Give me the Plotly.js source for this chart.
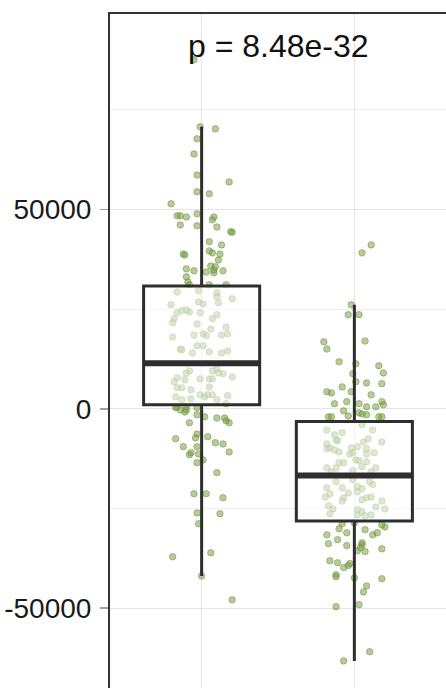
<!DOCTYPE html>
<html>
<head>
<meta charset="utf-8">
<script src="https://cdn.plot.ly/plotly-3.0.1.min.js"></script>
<style>
  html, body { margin: 0; padding: 0; background: #ffffff; }
  #chart { width: 446px; height: 688px; }
</style>
</head>
<body>
<div id="chart"></div>
<script>
// ---------- data ----------
const categories = ["Group 1", "Group 2"];
const pLabel = "p = 8.48e-32";
const yTickVals = [-50000, 0, 50000];
const yTickText = ["-50000", "0", "50000"];

// box statistics per category
const q1Values = [1000, -28100];
const medianValues = [11450, -16700];
const q3Values = [30800, -3150];
const lowerFences = [-41900, -63200];
const upperFences = [70700, 26100];

// jittered points, group 1 (horizontal jitter offset, value)
const jitterGroup1 = [
  -0.05, -0.01, 0.09, -0.03, -0.05, -0.03, 0.18, -0.03, 0.05, -0.20,
  -0.16, -0.14, -0.10, -0.03, 0.08, 0.07, -0.14, -0.03, 0.10, 0.19,
  0.20, 0.05, 0.13, -0.12, -0.11, 0.05, 0.07, 0.12, 0.11, -0.10,
  -0.05, 0.06, 0.09, 0.08, 0.03, 0.08, 0.14, -0.10, -0.09, 0.05,
  0.16, -0.08,
  -0.16, -0.02, 0.10, 0.10, -0.20, -0.02, 0.01, 0.11,
  0.20, -0.16, -0.13, -0.10, -0.08, -0.01, 0.10, -0.18, -0.19, 0.07,
  -0.03, 0.06, 0.16, -0.19, -0.05, 0.01, 0.03, 0.13, 0.17, -0.14,
  -0.13, -0.03, 0.01, -0.06, 0.05, 0.13, 0.17,
  -0.08, -0.10, -0.16, -0.11, -0.01, 0.05, 0.07, 0.07, 0.10, 0.11, 0.14, 0.20, -0.18,
  -0.16, -0.13, -0.07, 0.05, -0.01, 0.02, 0.04, 0.07, -0.17, -0.13,
  -0.07, 0.17, 0.10, 0.16, -0.16, -0.10,
  -0.17, -0.14, -0.10, -0.03, -0.11, -0.03, 0.02, 0.10, 0.15, 0.16, 0.18, -0.08, -0.17, -0.03,
  -0.04, 0.04, 0.09, 0.14, -0.12, -0.03, -0.07, -0.08, -0.02, 0.18,
  0.01, -0.03, 0.10, -0.05, 0.03, 0.14, -0.03, 0.12, -0.02, -0.19,
  0.06, 0.00, 0.20
];
const valuesGroup1 = [
  87500, 70700, 70200, 67700, 63900, 58600, 56900, 54400, 53900, 51400,
  48400, 48400, 48100, 48900, 48100, 47400, 46100, 45900, 45600, 44400,
  44300, 41900, 41100, 38800, 38600, 39600, 39100, 38800, 37300, 35100,
  34600, 35800, 35600, 34800, 34300, 34100, 34600, 33100, 31800, 31100,
  31100, 31100,
  29300, 29600, 29100, 28100, 26100, 26800, 26300, 26600,
  27600, 24100, 24600, 24800, 24300, 24100, 23600, 22600, 21600, 22600,
  21300, 20000, 20500, 18000, 18500, 18800, 18300, 18500, 18800, 15000,
  14800, 15800, 15800, 14000, 14300, 14000, 14500,
  9500, 9000, 7800, 7300, 7500, 7500, 7500, 9500, 10000, 9000, 8800, 8000, 6800,
  5300, 5300, 4800, 5500, 3500, 3000, 3500, 3500, 3000, 2300,
  2500, 3300, 2300, 1300, 500, 500,
  300, -300, -300, 300, -800, -1500, -2000, -2300, -2300, -3000, -3500, -3500, -7500, -6300,
  -7300, -7000, -8500, -8800, -9500, -9500, -11000, -11500, -11300, -10800,
  -12800, -13500, -16000, -21300, -21300, -22300, -26100, -26300, -28800, -37100,
  -36100, -41900, -47900
];

// jittered points, group 2
const jitterGroup2 = [
  0.11, 0.05, -0.02, -0.04, 0.03, -0.20, -0.18, 0.07, -0.10, 0.01,
  0.16, 0.19, -0.01, 0.01, 0.08, 0.18, -0.08, -0.18, -0.15, -0.02,
  0.11, -0.13, -0.05, 0.03, 0.08, 0.18, 0.19, -0.07, -0.04, 0.03,
  0.08, 0.14, -0.17, -0.15, 0.16, 0.18, 0.05,
  -0.18, -0.13, -0.08, 0.05, 0.12, -0.12, -0.11, -0.18, 0.06, 0.09,
  0.18, -0.18, -0.16, -0.13, -0.02, 0.02, 0.08, -0.10, -0.01, -0.03,
  0.13, 0.08, 0.01, 0.03, 0.08, -0.10, -0.07, -0.18, -0.12, 0.05,
  0.14, 0.11, -0.15, -0.01, -0.12, -0.01, 0.10, -0.18, -0.08, 0.02,
  0.05, 0.12, -0.16, -0.19, -0.04, -0.07, -0.08, 0.08, 0.05, 0.02,
  0.11, 0.18, -0.17, -0.14, 0.02, 0.05, 0.14, 0.20, -0.16, 0.02, 0.11, 0.07,
  -0.08, 0.00, 0.18, 0.20, -0.18, -0.10, -0.05, 0.07, 0.12, 0.15,
  -0.17, -0.11, -0.05, 0.05, 0.05, 0.04, 0.02, 0.07, 0.18, -0.16,
  -0.11, -0.07, -0.04, -0.03, -0.12, -0.12, 0.00, 0.18, 0.08, 0.06,
  -0.12, 0.03, 0.10, -0.07
];
const valuesGroup2 = [
  41100, 39100, 26100, 23600, 23600, 16800, 15000, 17000, 11800, 11300,
  10800, 9000, 8800, 6800, 6500, 6300, 5500, 4300, 4000, 4300,
  3500, 1300, 1800, 1300, 500, 1800, 1000, -500, -1800, -1000,
  -1500, 500, -2000, -2000, -2000, -2000, -1300,
  -5300, -6500, -6000, -4000, -5300, -7800, -8000, -8800, -8300, -7500,
  -8300, -10000, -9800, -10300, -9800, -9500, -10000, -10800, -11000, -11300,
  -11000, -11300, -12800, -13000, -13300, -13500, -13500, -14800, -14800, -14500,
  -14800, -15800, -15800, -15500, -18300, -17800, -18300, -19800, -19800, -19500,
  -20000, -19000, -21300, -22100, -21100, -22300, -23100, -22300, -22800, -20800,
  -22100, -23100, -24300, -25100, -25300, -25800, -24600, -25100, -26300, -26600, -26600, -26800,
  -28800, -28600, -29100, -29600, -31600, -30100, -31100, -30300, -31600, -31100,
  -33800, -32800, -34300, -33600, -34100, -34800, -35600, -35800, -35100, -38100,
  -38600, -39800, -39300, -38800, -41600, -42100, -42400, -42600, -44400, -45900,
  -49600, -49100, -60900, -63200
];

// ---------- build traces ----------
const positions = categories.map((c, i) => i + 1);
const boxWidth = 0.76;
const yRange = [-70000, 99000];
const xRange = [0.4, 2.6];

const ptX = [];
const ptY = [];
[[jitterGroup1, valuesGroup1], [jitterGroup2, valuesGroup2]].forEach((g, i) => {
  g[0].forEach((j, k) => { ptX.push(positions[i] + j); ptY.push(g[1][k]); });
});

const points = {
  type: 'scatter', mode: 'markers', x: ptX, y: ptY,
  marker: { size: 6.5, color: 'rgba(112,152,60,0.5)', line: { color: 'rgba(112,152,60,0.55)', width: 1 } },
  hoverinfo: 'skip', xaxis: 'x', yaxis: 'y'
};

const boxes = {
  type: 'box', x: positions,
  q1: q1Values, median: medianValues, q3: q3Values,
  lowerfence: lowerFences, upperfence: upperFences,
  width: boxWidth, whiskerwidth: 0, boxpoints: false,
  line: { color: '#2e2e2e', width: 3 },
  fillcolor: 'rgba(255,255,255,0.55)',
  hoverinfo: 'skip', xaxis: 'x2', yaxis: 'y2'
};

const medX = [], medY = [];
positions.forEach((p, i) => {
  medX.push(p - boxWidth / 2, p + boxWidth / 2, null);
  medY.push(medianValues[i], medianValues[i], null);
});
const medians = {
  type: 'scatter', mode: 'lines', x: medX, y: medY,
  line: { color: '#2e2e2e', width: 6 },
  hoverinfo: 'skip', xaxis: 'x2', yaxis: 'y2'
};

const font = 'Liberation Sans, Arial, Helvetica, sans-serif';

const layout = {
  width: 446, height: 688,
  margin: { l: 110, r: 0, t: 14, b: 0, pad: 0 },
  paper_bgcolor: '#ffffff', plot_bgcolor: '#ffffff',
  showlegend: false,
  font: { family: font, color: '#1a1a1a' },
  xaxis: {
    range: xRange, side: 'top', tickvals: positions, ticktext: categories,
    showticklabels: false, ticks: '',
    showgrid: true, gridcolor: '#e4e4e4', gridwidth: 1.3,
    showline: true, linecolor: '#333333', linewidth: 2,
    zeroline: false, fixedrange: true
  },
  yaxis: {
    range: yRange, tickvals: yTickVals, ticktext: yTickText,
    ticks: 'outside', ticklen: 8, tickwidth: 1.5, tickcolor: '#a0a0a0',
    ticklabelstandoff: 3,
    tickfont: { family: font, size: 28, color: '#1a1a1a' },
    showgrid: true, gridcolor: '#e4e4e4', gridwidth: 1.3,
    minor: { dtick: 25000, tick0: 0, showgrid: true, gridcolor: '#eeeeee', gridwidth: 1, ticks: '' },
    showline: true, mirror: true, linecolor: '#333333', linewidth: 2,
    zeroline: false, automargin: false, fixedrange: true
  },
  xaxis2: { overlaying: 'x', range: xRange, visible: false, fixedrange: true },
  yaxis2: { overlaying: 'y', range: yRange, visible: false, fixedrange: true },
  annotations: [{
    text: pLabel, xref: 'paper', yref: 'paper', x: 0.5, y: 0.952,
    xanchor: 'center', yanchor: 'middle', showarrow: false,
    font: { family: font, size: 32, color: '#111111' }
  }]
};

Plotly.newPlot('chart', [points, boxes, medians], layout, { staticPlot: true, displayModeBar: false });
</script>
</body>
</html>
